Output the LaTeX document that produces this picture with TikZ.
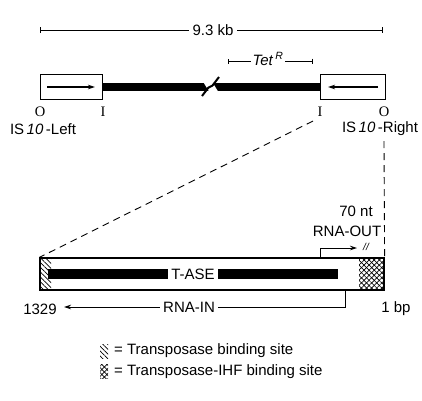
\documentclass[tikz,border=0pt]{standalone}
\usepackage{fontspec}
\setmainfont{Liberation Sans}
\newfontfamily\serifo{Liberation Serif}
\usetikzlibrary{arrows.meta,patterns.meta}
\begin{document}
\begin{tikzpicture}[x=1pt,y=-1pt,
  lbl/.style={font=\fontsize{15}{17}\selectfont, inner sep=1pt},
  endlbl/.style={font=\serifo\fontsize{14.5}{16}\selectfont, inner sep=0pt},
  isbox/.style={draw, line width=1pt, minimum height=25pt, inner sep=0pt},
  scalebar/.style={line width=0.7pt, {Bar[width=6pt]}-{Bar[width=6pt]}},
  dashline/.style={line width=0.9pt, dash pattern=on 7pt off 5pt},
  hatch/.style={pattern={Lines[angle=-45,distance=3.4pt,line width=0.7pt]}},
  xhatch/.style={pattern={Lines[angle=45,distance=3.6pt,line width=0.7pt]}},
  xhatchb/.style={pattern={Lines[angle=-45,distance=3.6pt,line width=0.7pt]}},
  tip/.style={-{Stealth[length=7pt,width=4.5pt]}}
]
\useasboundingbox (0,0) rectangle (422,400);

% overall length of the element
\coordinate (sbL) at (40,30);
\coordinate (sbR) at (383,30);
\draw[scalebar] (sbL) -- (sbR);
\node[lbl, fill=white, inner xsep=4pt] (kb) at (213,30) {9.3 kb};

% tetracycline resistance region
\coordinate (tetL) at (228,61);
\coordinate (tetR) at (313,61);
\draw[line width=0.6pt, {Bar[width=5pt]}-{Bar[width=5pt]}] (tetL) -- (tetR);
\node[lbl, fill=white, inner xsep=2pt] (tet) at (268,59) {\textit{Tet\,\textsuperscript{R}}};

% the two IS10 elements and the central segment
\node[isbox, minimum width=62pt] (isl) at (71,86.5) {};
\node[isbox, minimum width=65pt] (isr) at (352.5,86.5) {};
\draw[line width=8pt] (isl.east) -- (isr.west);
% break in the segment
\fill[white] (202,80) -- (211,80) -- (219,93) -- (210,93) -- cycle;
\draw[line width=2pt, line join=miter] (202,96) -- (208.5,87.5) -- (212.5,85.5) -- (219,77);

% orientation arrows
\coordinate (al1) at (47,87);
\coordinate (al2) at (95,87);
\coordinate (ar1) at (378,87);
\coordinate (ar2) at (328,87);
\draw[tip, line width=1.2pt] (al1) -- (al2);
\draw[tip, line width=1.2pt] (ar1) -- (ar2);

% outside and inside ends
\node[endlbl] (o1) at (40,112) {O};
\node[endlbl] (i1) at (103,112) {I};
\node[endlbl] (i2) at (320,112) {I};
\node[endlbl] (o2) at (384,112) {O};

\node[lbl] (isleft) at (43,129) {IS\,\textit{10}\,-Left};
\node[lbl] (isright) at (380,129) {IS\,\textit{10}\,-Right};

% expanded view of IS10-Right
\coordinate (z1) at (313,121);
\coordinate (z2) at (384,141);
\node[draw, line width=1.2pt, minimum width=344pt, minimum height=32pt, inner sep=0pt] (lower) at (212,274) {};
\draw[dashline] (z1) -- (lower.north west);
\draw[dashline] (z2) -- (lower.north east);

\fill[hatch] (40.6,258.6) rectangle (51,289.4);
\fill[xhatch] (359,258.6) rectangle (383.4,289.4);
\fill[xhatchb] (359,258.6) rectangle (383.4,289.4);

% transposase gene
\coordinate (tA) at (48,274);
\coordinate (tB) at (338,274);
\draw[line width=10pt] (tA) -- (tB);
\node[lbl, fill=white, inner xsep=3pt, minimum height=12pt] (tase) at (193,274) {T-ASE};

% RNA-OUT transcript
\coordinate (outS) at (320,258);
\coordinate (outE) at (357,248);
\draw[tip, line width=0.8pt] (outS) |- (outE);
\node[font=\itshape\fontsize{10}{11}\selectfont, inner sep=0pt] (brk) at (366,247) {//};
\node[lbl] (nt) at (356,211) {70 nt};
\node[lbl] (rout) at (347,231) {RNA-OUT};

% RNA-IN transcript
\coordinate (inS) at (345,290);
\coordinate (inE) at (64,307);
\draw[tip, line width=0.8pt] (inS) |- (inE);
\node[lbl, fill=white, inner xsep=3pt] (rin) at (189,307) {RNA-IN};
\node[lbl] (n1329) at (40,309) {1329};
\node[lbl] (bp) at (396,309) {1 bp};

% key
\fill[hatch] (100,344) rectangle (108,358);
\node[lbl, anchor=west] (key1) at (113,351) {= Transposase binding site};
\fill[xhatch] (100,364) rectangle (108,378);
\fill[xhatchb] (100,364) rectangle (108,378);
\node[lbl, anchor=west] (key2) at (113,372) {= Transposase-IHF binding site};
\end{tikzpicture}
\end{document}
